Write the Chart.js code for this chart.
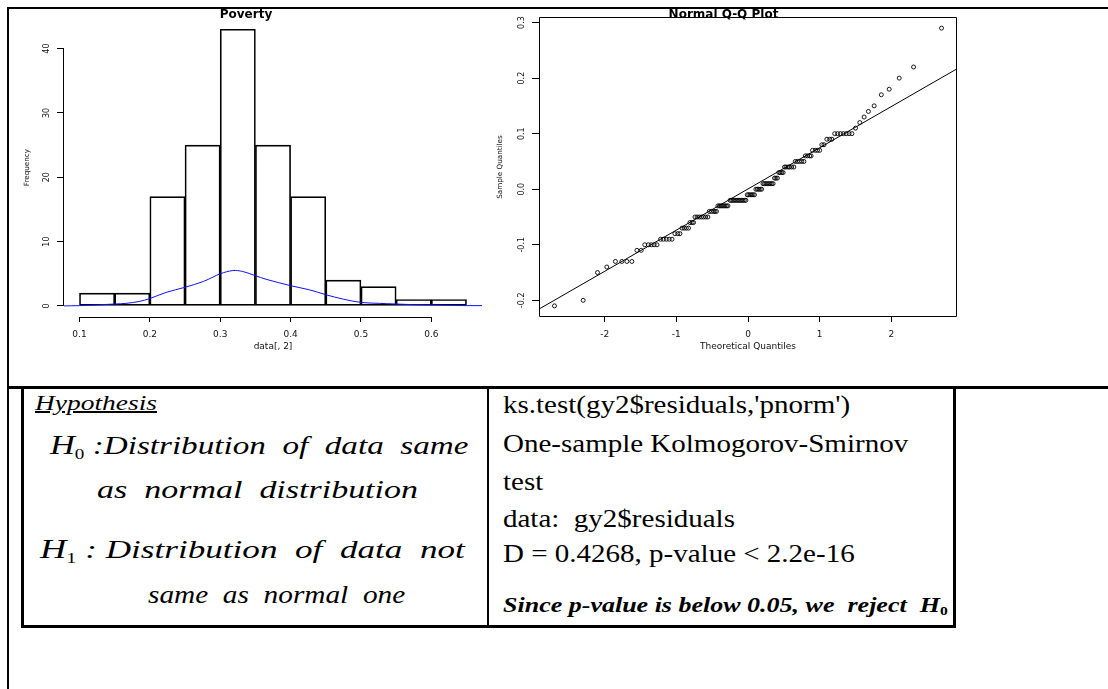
<!DOCTYPE html>
<html>
<head>
<meta charset="utf-8">
<script src="https://cdn.jsdelivr.net/npm/chart.js@4.4.0/dist/chart.umd.min.js"></script>
<style>
  html, body { margin: 0; padding: 0; background: #fff; }
  body { width: 1108px; height: 689px; position: relative; overflow: hidden; }
  .rule { position: absolute; background: #000; }
  canvas { position: absolute; }
  .cell { position: absolute; white-space: pre; line-height: 1; color: #000;
          font-family: 'Liberation Serif', 'Times New Roman', serif; transform-origin: 0 0; }
  .it { font-style: italic; }
  .big { font-size: 27px; }
  .sub { font-style: normal; font-size: 15px; position: relative; top: 5px; }
  .sub2 { font-style: normal; font-size: 12px; position: relative; top: 3px; }
</style>
</head>
<body>
<!-- page frame -->
<div class="rule" style="left:7px; top:7px; width:1101px; height:2px;"></div>
<div class="rule" style="left:7px; top:7px; width:2px; height:682px;"></div>
<div class="rule" style="left:7px; top:386px; width:1101px; height:3px;"></div>

<canvas id="hist" width="478" height="356" style="left:10px; top:8px;"></canvas>
<canvas id="qq" width="478" height="356" style="left:490px; top:8px;"></canvas>

<!-- table -->
<div class="rule" style="left:21px; top:386px; width:3px; height:242px;"></div>
<div class="rule" style="left:487px; top:386px; width:2px; height:242px;"></div>
<div class="rule" style="left:953px; top:386px; width:3px; height:242px;"></div>
<div class="rule" style="left:21px; top:625px; width:935px; height:3px;"></div>

<div class="cell it" style="left:35px; top:393px; font-size:20px; transform:scaleX(1.372);"><u>Hypothesis</u></div>
<div class="cell it" style="left:50px; top:432px; font-size:26px; transform:scaleX(1.275);"><span class="big">H</span><span class="sub">0</span> :Distribution  of  data  same</div>
<div class="cell it" style="left:97px; top:477px; font-size:26px; transform:scaleX(1.307);">as  normal  distribution</div>
<div class="cell it" style="left:40px; top:536px; font-size:26px; transform:scaleX(1.351);"><span class="big">H</span><span class="sub">1</span> : Distribution  of  data  not</div>
<div class="cell it" style="left:148px; top:582px; font-size:26px; transform:scaleX(1.127);">same  as  normal  one</div>

<div class="cell" style="left:503px; top:392px; font-size:25px; transform:scaleX(1.16);">ks.test(gy2$residuals,'pnorm')</div>
<div class="cell" style="left:503px; top:431px; font-size:25px; transform:scaleX(1.16);">One-sample Kolmogorov-Smirnov</div>
<div class="cell" style="left:503px; top:469px; font-size:25px; transform:scaleX(1.16);">test</div>
<div class="cell" style="left:503px; top:506px; font-size:25px; transform:scaleX(1.16);">data:  gy2$residuals</div>
<div class="cell" style="left:503px; top:541px; font-size:25px; transform:scaleX(1.16);">D = 0.4268, p-value &lt; 2.2e-16</div>
<div class="cell it" style="left:503px; top:595px; font-size:20px; font-weight:bold; transform:scaleX(1.3);">Since p-value is below 0.05, we  reject  H<span class="sub2">0</span></div>

<script>
// Histogram: bin breaks and counts
const breaks = [0.10, 0.15, 0.20, 0.25, 0.30, 0.35, 0.40, 0.45, 0.50, 0.55, 0.60, 0.65];
const counts = [2, 2, 17, 25, 43, 25, 17, 4, 3, 1, 1];

// Density curve (blue), in frequency units as drawn
const densX = [0.077, 0.10, 0.124, 0.15, 0.166, 0.185, 0.20, 0.223, 0.25, 0.276, 0.29, 0.30, 0.318, 0.332,
	0.35, 0.365, 0.40, 0.427, 0.45, 0.475, 0.50, 0.526, 0.55, 0.574, 0.60, 0.626, 0.65, 0.674];
const densY = [0.0, 0.05, 0.15, 0.3, 0.4, 0.7, 1.15, 2.1, 2.9, 3.8, 4.5, 5.0, 5.5, 5.35,
	4.7, 4.15, 3.15, 2.5, 1.75, 1.05, 0.55, 0.4, 0.3, 0.2, 0.15, 0.1, 0.05, 0.05];

const histXTicks = [0.1, 0.2, 0.3, 0.4, 0.5, 0.6];
const histYTicks = [0, 10, 20, 30, 40];

// Normal Q-Q plot: theoretical quantiles and sample quantiles
const qqTheo = [
	-2.70, -2.30, -2.10, -1.97,
	-1.85, -1.76, -1.69, -1.62,
	-1.55, -1.49,
	-1.44, -1.39, -1.35, -1.31, -1.27,
	-1.22, -1.18, -1.14, -1.10, -1.06,
	-1.02, -0.98, -0.95,
	-0.92, -0.89, -0.86, -0.83,
	-0.81, -0.78, -0.76,
	-0.74, -0.71, -0.68, -0.65, -0.62, -0.59, -0.56,
	-0.54, -0.51, -0.48, -0.46, -0.44,
	-0.42, -0.40, -0.38, -0.36, -0.34, -0.32, -0.30, -0.28,
	-0.25, -0.23, -0.21, -0.19, -0.17, -0.15, -0.13, -0.11, -0.09, -0.07, -0.05, -0.03,
	-0.01, 0.01, 0.03, 0.05, 0.07, 0.09,
	0.11, 0.13, 0.15, 0.17, 0.19,
	0.21, 0.23, 0.25, 0.27, 0.29, 0.31, 0.33, 0.35,
	0.37, 0.39, 0.41,
	0.43, 0.45, 0.47, 0.49,
	0.51, 0.53, 0.56, 0.58, 0.61, 0.64,
	0.66, 0.69, 0.72, 0.75, 0.78,
	0.80, 0.83, 0.86, 0.88,
	0.90, 0.94, 0.97, 1.00,
	1.03, 1.06,
	1.10, 1.14, 1.17,
	1.21, 1.25, 1.29, 1.33, 1.37, 1.41, 1.45,
	1.50, 1.56, 1.62, 1.68, 1.76, 1.86, 1.97, 2.11, 2.31, 2.70
];
const qqSample = [
	-0.21, -0.20, -0.15, -0.14,
	-0.13, -0.13, -0.13, -0.13,
	-0.11, -0.11,
	-0.10, -0.10, -0.10, -0.10, -0.10,
	-0.09, -0.09, -0.09, -0.09, -0.09,
	-0.08, -0.08, -0.08,
	-0.07, -0.07, -0.07, -0.07,
	-0.06, -0.06, -0.06,
	-0.05, -0.05, -0.05, -0.05, -0.05, -0.05, -0.05,
	-0.04, -0.04, -0.04, -0.04, -0.04,
	-0.03, -0.03, -0.03, -0.03, -0.03, -0.03, -0.03, -0.03,
	-0.02, -0.02, -0.02, -0.02, -0.02, -0.02, -0.02, -0.02, -0.02, -0.02, -0.02, -0.02,
	-0.01, -0.01, -0.01, -0.01, -0.01, -0.01,
	0.00, 0.00, 0.00, 0.00, 0.00,
	0.01, 0.01, 0.01, 0.01, 0.01, 0.01, 0.01, 0.01,
	0.02, 0.02, 0.02,
	0.03, 0.03, 0.03, 0.03,
	0.04, 0.04, 0.04, 0.04, 0.04, 0.04,
	0.05, 0.05, 0.05, 0.05, 0.05,
	0.06, 0.06, 0.06, 0.06,
	0.07, 0.07, 0.07, 0.07,
	0.08, 0.08,
	0.09, 0.09, 0.09,
	0.10, 0.10, 0.10, 0.10, 0.10, 0.10, 0.10,
	0.11, 0.12, 0.13, 0.14, 0.15, 0.17, 0.18, 0.20, 0.22, 0.29
];

// qqline end points
const qqLineX = [-2.906, 2.906];
const qqLineY = [-0.215, 0.216];

const qqXTicks = [-2, -1, 0, 1, 2];
const qqYTicks = [-0.2, -0.1, 0.0, 0.1, 0.2, 0.3];

Chart.defaults.font.family = "'DejaVu Sans', sans-serif";
Chart.defaults.color = "#111";
Chart.defaults.animation = false;

// R pads each axis range by 4%
const rRange = (lo, hi) => [lo - (hi - lo) * 0.04, hi + (hi - lo) * 0.04];

const FONT_TICK_X = { size: 9 };
const FONT_TICK_Y = { size: 8 };
const FONT_LAB = { size: 9 };
const FONT_YLAB = { size: 7.2 };
const FONT_MAIN = { size: 12, weight: "bold" };

// R style axis lines (first to last tick), or a full box round the plot
const rAxes = {
	id: "rAxes",
	afterDatasetsDraw(chart, args, opts) {
		const { ctx, chartArea, scales } = chart;
		ctx.save();
		ctx.strokeStyle = "#000";
		ctx.lineWidth = 1;
		ctx.beginPath();
		if (opts.box) {
			const l = Math.round(chartArea.left) + 0.5;
			const t = Math.round(chartArea.top) + 0.5;
			const r = Math.round(chartArea.right) - 0.5;
			const b = Math.round(chartArea.bottom) - 0.5;
			ctx.rect(l, t, r - l, b - t);
		} else {
			const x = scales.x;
			const y = scales.y;
			const yb = Math.round(x.top) + 0.5;
			ctx.moveTo(x.getPixelForValue(x.ticks[0].value), yb);
			ctx.lineTo(x.getPixelForValue(x.ticks[x.ticks.length - 1].value), yb);
			const xl = Math.round(y.right) - 0.5;
			ctx.moveTo(xl, y.getPixelForValue(y.ticks[0].value));
			ctx.lineTo(xl, y.getPixelForValue(y.ticks[y.ticks.length - 1].value));
		}
		ctx.stroke();
		ctx.restore();
	},
};

const tickAxis = (ticks, fmt, font, tickLength, padding, extra) => ({
	type: "linear",
	offset: false,
	afterBuildTicks: (s) => {
		s.ticks = ticks.map((v) => ({ value: v }));
	},
	border: { display: false },
	grid: { offset: false, drawOnChartArea: false, drawTicks: true, tickLength: tickLength, color: "#000", lineWidth: 1 },
	ticks: { font: font, color: "#111", padding: padding, autoSkip: false, callback: fmt },
	...extra,
});

// y tick labels in R read bottom to top
const rotY = { minRotation: 90, maxRotation: 90, crossAlign: "center" };

// Histogram
const [hxMin, hxMax] = rRange(breaks[0], breaks[breaks.length - 1]);
const [hyMin, hyMax] = rRange(0, Math.max(...counts));

const histY = tickAxis(histYTicks, (v) => String(v), FONT_TICK_Y, 7, 5.4, {
	min: hyMin,
	max: hyMax,
	afterFit: (s) => {
		s.width = 54;
	},
	title: { display: true, text: "Frequency", font: FONT_YLAB, color: "#111", padding: { top: 12.7, bottom: 0 } },
});
Object.assign(histY.ticks, rotY);

new Chart(document.getElementById("hist"), {
	type: "bar",
	data: {
		datasets: [
			{
				type: "bar",
				order: 1,
				data: counts.map((c, i) => ({ x: (breaks[i] + breaks[i + 1]) / 2, y: c })),
				backgroundColor: "rgba(255,255,255,0)",
				borderColor: "#000",
				borderWidth: 1,
				borderSkipped: false,
				barPercentage: 1,
				categoryPercentage: 1,
			},
			{
				type: "line",
				order: 0,
				data: densX.map((x, i) => ({ x: x, y: densY[i] })),
				borderColor: "#1010ff",
				borderWidth: 1,
				pointRadius: 0,
				tension: 0.35,
				fill: false,
			},
		],
	},
	options: {
		responsive: false,
		maintainAspectRatio: false,
		layout: { padding: { left: 0, right: 6, top: 0, bottom: 0 } },
		plugins: {
			legend: { display: false },
			tooltip: { enabled: false },
			title: { display: true, text: "Poverty", color: "#000", font: FONT_MAIN, padding: { top: -0.7, bottom: -4.1 } },
			rAxes: { box: false },
		},
		scales: {
			x: tickAxis(histXTicks, (v) => v.toFixed(1), FONT_TICK_X, 5, 7, {
				min: hxMin,
				max: hxMax,
				afterFit: (s) => {
					s.height = 47;
				},
				title: { display: true, text: "data[, 2]", font: FONT_LAB, color: "#111", padding: { top: 0, bottom: 11.6 } },
			}),
			y: histY,
		},
	},
	plugins: [rAxes],
});

// Normal Q-Q plot
const [qxMin, qxMax] = rRange(Math.min(...qqTheo), Math.max(...qqTheo));
const [qyMin, qyMax] = rRange(Math.min(...qqSample), Math.max(...qqSample));

const qqY = tickAxis(qqYTicks, (v) => v.toFixed(1), FONT_TICK_Y, 7, 2.7, {
	min: qyMin,
	max: qyMax,
	afterFit: (s) => {
		s.width = 49;
	},
	title: { display: true, text: "Sample Quantiles", font: FONT_YLAB, color: "#111", padding: { top: 5.7, bottom: 0 } },
});
Object.assign(qqY.ticks, rotY);

new Chart(document.getElementById("qq"), {
	type: "scatter",
	data: {
		datasets: [
			{
				data: qqTheo.map((x, i) => ({ x: x, y: qqSample[i] })),
				pointStyle: "circle",
				pointRadius: 2,
				borderColor: "#000",
				borderWidth: 0.9,
				backgroundColor: "rgba(255,255,255,0)",
			},
			{
				type: "line",
				data: qqLineX.map((x, i) => ({ x: x, y: qqLineY[i] })),
				borderColor: "#000",
				borderWidth: 1,
				pointRadius: 0,
				showLine: true,
			},
		],
	},
	options: {
		responsive: false,
		maintainAspectRatio: false,
		layout: { padding: { left: 0, right: 11, top: 0, bottom: 0 } },
		plugins: {
			legend: { display: false },
			tooltip: { enabled: false },
			title: { display: true, text: "Normal Q-Q Plot", color: "#000", font: FONT_MAIN, padding: { top: -0.2, bottom: -5.2 } },
			rAxes: { box: true },
		},
		scales: {
			x: tickAxis(qqXTicks, (v) => String(v), FONT_TICK_X, 5, 7, {
				min: qxMin,
				max: qxMax,
				afterFit: (s) => {
					s.height = 47;
				},
				title: { display: true, text: "Theoretical Quantiles", font: FONT_LAB, color: "#111", padding: { top: 0, bottom: 11.6 } },
			}),
			y: qqY,
		},
	},
	plugins: [rAxes],
});
</script>
</body>
</html>
